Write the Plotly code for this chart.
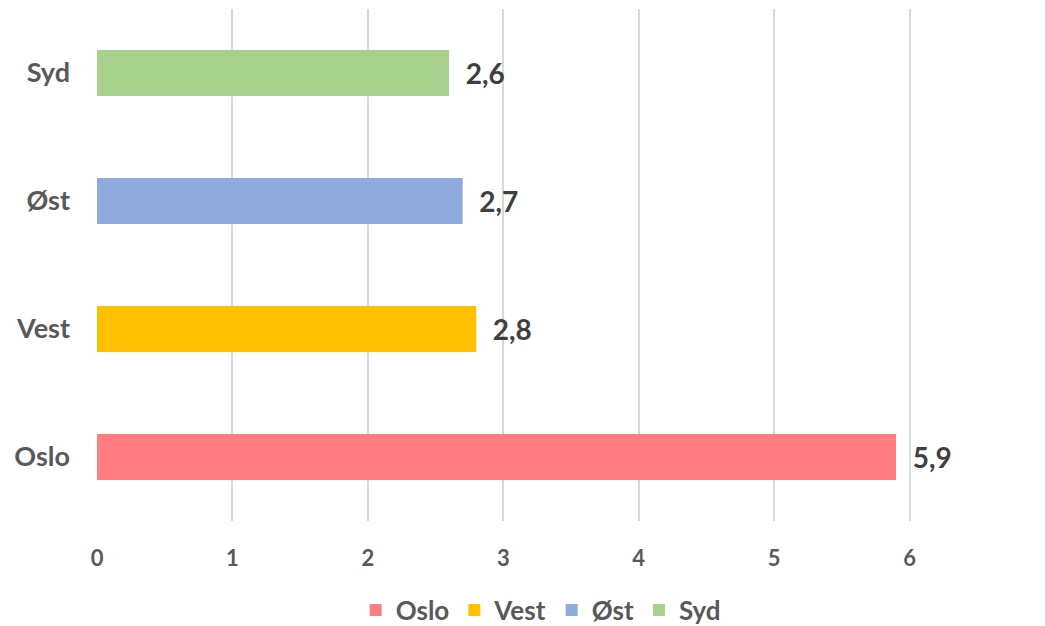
import plotly.graph_objects as go

# data
regions = ["Oslo", "Vest", "Øst", "Syd"]
values = [5.9, 2.8, 2.7, 2.6]
colors = ["#FF7C80", "#FFC000", "#8FAADC", "#A9D18E"]
x_ticks = [0, 1, 2, 3, 4, 5, 6, 7]

font_family = "Lato, 'Open Sans', sans-serif"

fig = go.Figure()
for name, val, col in zip(regions, values, colors):
    fig.add_trace(go.Bar(
        y=[name], x=[val], name=name, orientation="h",
        marker=dict(color=col, line=dict(width=0)),
        width=0.36,
        text=["\u00a0\u00a0" + f"{val:.1f}".replace(".", ",")],
        textposition="outside",
        textfont=dict(family=font_family, size=28, color="#404040", weight="bold"),
        cliponaxis=False,
    ))

# page body has an 8px margin, so the figure is sized to fit the window
fig.update_layout(
    width=1037, height=618,
    margin=dict(l=89, r=0, t=1, b=105, autoexpand=False),
    barmode="overlay",
    plot_bgcolor="white", paper_bgcolor="white",
    font=dict(family=font_family, color="#595959"),
    legend=dict(orientation="h", x=0.468, xanchor="center", y=-0.174, yanchor="middle",
                font=dict(size=26, color="#595959", weight="bold"),
                itemwidth=30, traceorder="normal"),
    xaxis=dict(range=[0, 7], tickvals=x_ticks, showgrid=True, gridcolor="#D9D9D9",
               gridwidth=1.5, zeroline=False, showline=False, automargin=False,
               tickfont=dict(size=22, color="#595959", weight="bold"),
               ticklabelstandoff=22, ticklabeloverflow="allow"),
    yaxis=dict(categoryorder="array", categoryarray=regions, showgrid=False,
               zeroline=False, showline=False, automargin=False,
               tickfont=dict(size=27, color="#595959", weight="bold"),
               ticklabelstandoff=26),
)

fig.write_html("out.html")
